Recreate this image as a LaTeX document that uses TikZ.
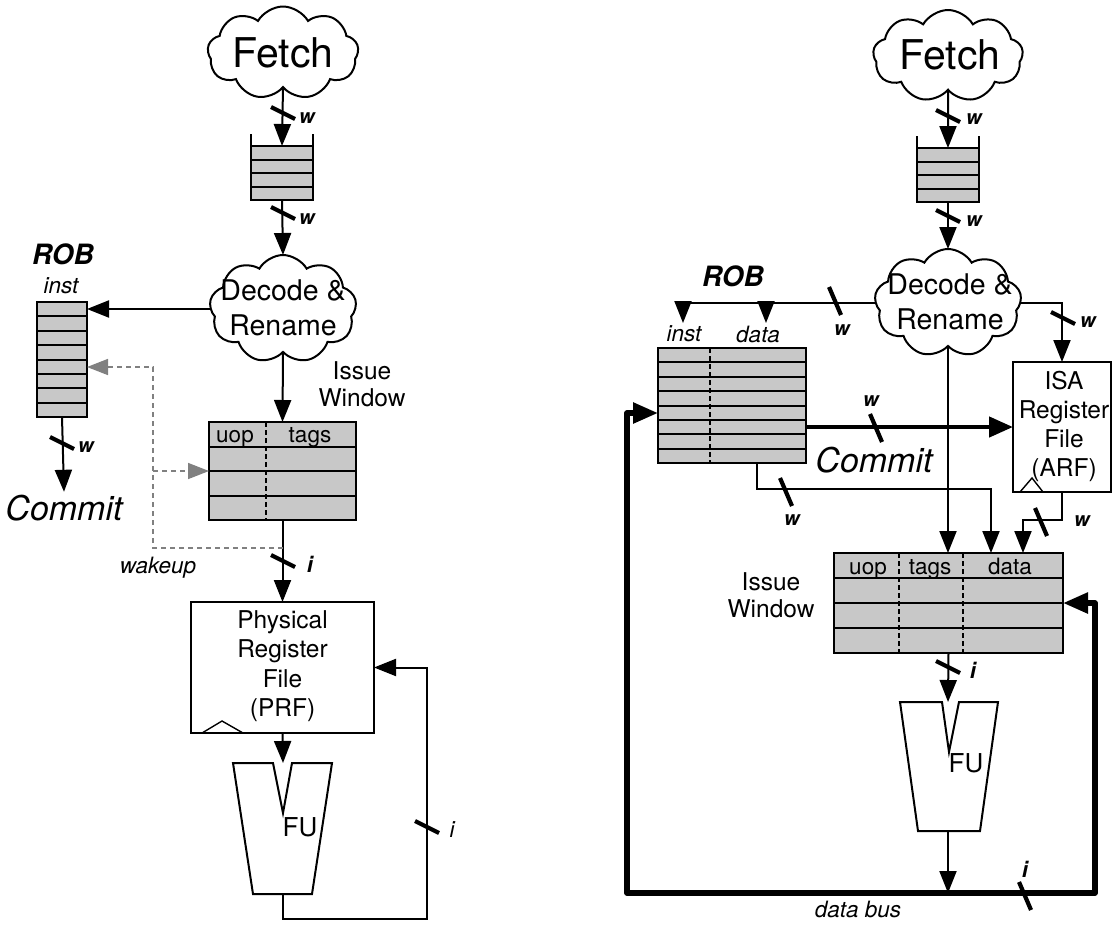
\documentclass[tikz,border=0pt]{standalone}
\usepackage{fontspec}
\setmainfont{TeX Gyre Heros}
\usetikzlibrary{shapes.symbols,arrows.meta,calc}
\definecolor{cellgray}{RGB}{200,200,200}
\definecolor{wkgray}{RGB}{128,128,128}
\tikzset{
  ln/.style={line width=2pt},
  arr/.style={line width=2pt, -{Triangle[length=22pt,width=17pt]}},
  garr/.style={line width=1.6pt, draw=wkgray, dash pattern=on 5pt off 4pt, -{Triangle[length=21pt,width=16pt]}},
  carr/.style={line width=4.5pt, -{Triangle[length=24pt,width=20pt]}},
  bus/.style={line width=5.5pt, line join=round},
  slashline/.style={line width=4.2pt},
  cloudbox/.style={cloud, cloud puffs=9, cloud puff arc=120, aspect=1.6, draw, line width=2pt, inner sep=0pt, outer sep=0pt},
  cellbox/.style={draw, fill=cellgray, line width=2pt, inner sep=0pt, outer sep=0pt},
  regbox/.style={draw, fill=white, line width=2pt, inner sep=0pt, outer sep=0pt},
  coldash/.style={line width=1.8pt, dash pattern=on 5pt off 3pt},
  bigtxt/.style={font=\fontsize{41}{44}\selectfont, inner sep=0pt},
  cloudtxt/.style={font=\fontsize{28.5}{35}\selectfont, align=center, inner sep=0pt},
  boxtxt/.style={font=\fontsize{24.5}{29.5}\selectfont, align=center, inner sep=0pt},
  headtxt/.style={font=\fontsize{22.5}{24}\selectfont, anchor=base, inner sep=0pt},
  ittxt/.style={font=\fontsize{22.5}{24}\selectfont\itshape, inner sep=0pt},
  committxt/.style={font=\fontsize{34}{38}\selectfont\itshape, inner sep=3pt},
  robtxt/.style={font=\fontsize{28}{30}\selectfont\bfseries\itshape, inner sep=0pt},
  wtxt/.style={font=\fontsize{20}{22}\selectfont\bfseries\itshape, inner sep=0pt},
  itxt/.style={font=\fontsize{22}{24}\selectfont\bfseries\itshape, inner sep=0pt},
}
\newcommand\myqueue[2]{%
  \node[fill=cellgray, minimum width=62pt, minimum height=54pt, inner sep=0pt, outer sep=0pt] (#1) at (#2) {};
  \draw[ln] ($(#1.north west)+(0,-12)$) -- (#1.south west) -- (#1.south east) -- ($(#1.north east)+(0,-12)$);
  \foreach \f in {0,0.25,0.5,0.75}
    \draw[ln] ($(#1.north west)!\f!(#1.south west)$) -- ($(#1.north east)!\f!(#1.south east)$);
}
\newcommand\mytable[6]{% name, center, width, height, rows, dash fractions
  \node[cellbox, minimum width=#3pt, minimum height=#4pt] (#1) at (#2) {};
  \foreach \k in {1,...,\numexpr#5-1\relax}
    \draw[ln] ($(#1.north west)!{\k/#5}!(#1.south west)$) -- ($(#1.north east)!{\k/#5}!(#1.south east)$);
  \foreach \f in {#6}
    \draw[coldash] ($(#1.north west)!\f!(#1.north east)$) -- ($(#1.south west)!\f!(#1.south east)$);
}
\newcommand\vslash[2]{\draw[slashline] ($(#1,#2)+(-12,-6)$) -- ($(#1,#2)+(12,6)$);}
\newcommand\hslash[2]{\draw[slashline] ($(#1,#2)+(-6,-14)$) -- ($(#1,#2)+(6,14)$);}
\begin{document}
\begin{tikzpicture}[x=1pt,y=-1pt]
\useasboundingbox (0,0) rectangle (1113,930);

%================ LEFT =================
\node[cloudbox, minimum width=151pt, minimum height=93pt] (fetchL) at (283,53) {};
\node[bigtxt] at (283,53) {Fetch};
\myqueue{qL}{282,173}
\node[cloudbox, minimum width=147pt, minimum height=108pt] (decL) at (283,309) {};
\node[cloudtxt] at (283,308) {Decode \&\\Rename};
\mytable{robL}{62,359.5}{50}{115}{8}{}
\node[robtxt] at (63,254) {ROB};
\node[ittxt] at (61,286) {inst};
\mytable{iwL}{282.5,471}{147}{98}{4}{0.388}
\node[headtxt] at (235,442) {uop};
\node[headtxt] at (310,442) {tags};
\node[boxtxt, font=\fontsize{24.5}{27}\selectfont] at (362,384) {Issue\\Window};
\node[regbox, minimum width=183pt, minimum height=131pt] (prfL) at (282.5,667.5) {};
\node[boxtxt] at (282.5,666) {Physical\\Register\\File\\(PRF)};
\draw[line width=1.4pt] (202,733) -- (222,721) -- (243,733);
\draw[ln] (233,763) -- (273,763) -- (283,813) -- (292,763) -- (332,763) -- (312,894) -- (253,894) -- cycle;
\coordinate (fuLtop) at (283,763);
\coordinate (fuLbot) at (283,894);
\node[boxtxt, font=\fontsize{26}{28}\selectfont] at (300,827) {FU};
\node[committxt] (commitL) at (64,508) {Commit};

\draw[arr] (fetchL.south) -- (qL.north);
\draw[arr] (qL.south) -- (decL.north);
\draw[arr] (decL.west) -- (decL.west -| robL.east);
\draw[arr] (decL.south) -- (iwL.north);
\draw[arr] (iwL.south) -- (prfL.north);
\draw[arr] (robL.south) -- (commitL.north);
\draw[arr] (prfL.south) -- (fuLtop);
\draw[arr] (fuLbot) -- ++(0,25) -| ($(prfL.east)+(53,0)$) -- (prfL.east);
\path (iwL.south) ++(0,28) coordinate (wk);
\coordinate (robLdash) at ($(robL.east)+(0,7.5)$);
\draw[garr] (wk) -| ($(robLdash)+(66,0)$) -- (robLdash);
\draw[garr] ($(iwL.west)+(-56,0)$) -- (iwL.west);

\vslash{283}{113} \node[wtxt] at (307,118) {w};
\vslash{283}{213} \node[wtxt] at (307,219) {w};
\vslash{62}{443}  \node[wtxt] at (86,447) {w};
\vslash{283}{561} \node[itxt] at (310,564) {i};
\vslash{427}{827} \node[ittxt] at (452,830) {i};
\node[ittxt] at (158,568) {wakeup};

%================ RIGHT =================
\node[cloudbox, minimum width=150pt, minimum height=92pt] (fetchR) at (948,56) {};
\node[bigtxt] at (950,55) {Fetch};
\myqueue{qR}{948,175}
\node[cloudbox, minimum width=147pt, minimum height=108pt] (decR) at (948,303) {};
\node[cloudtxt] at (950,302) {Decode \&\\Rename};
\mytable{robR}{732,405.5}{148}{115}{8}{0.351}
\node[robtxt] at (733,276) {ROB};
\node[ittxt] (instR) at (684,334) {inst};
\node[ittxt] (dataR) at (758,334) {data};
\coordinate (instTip) at (683,323);
\coordinate (dataTip) at (766,323);
\node[regbox, minimum width=98pt, minimum height=130pt] (arfR) at (1062,427) {};
\node[boxtxt, font=\fontsize{24.5}{29}\selectfont] at (1064,426) {ISA\\Register\\File\\(ARF)};
\draw[line width=1.4pt] (1020,492) -- (1032,478) -- (1043,492);
\mytable{iwR}{948.5,603}{229}{100}{4}{0.284,0.563}
\node[headtxt] at (868,574) {uop};
\node[headtxt] at (930,574) {tags};
\node[headtxt] at (1010,574) {data};
\node[boxtxt, font=\fontsize{24.5}{27}\selectfont] at (771,595) {Issue\\Window};
\draw[ln] (900,702) -- (942,702) -- (949,752) -- (959,702) -- (998,702) -- (980,831) -- (918,831) -- cycle;
\coordinate (fuRtop) at (948,702);
\coordinate (fuRbot) at (948,831);
\node[boxtxt, font=\fontsize{26}{28}\selectfont] at (966,763) {FU};
\node[committxt, inner sep=0pt] at (874,460) {Commit};
\node[ittxt] at (858,909) {data bus};

\draw[arr] (fetchR.south) -- (qR.north);
\draw[arr] (qR.south) -- (decR.north);
\draw[arr] (decR.west) -| (instTip);
\draw[arr] (decR.west -| dataTip) -- (dataTip);
\draw[arr] (decR.east) -| (arfR.north);
\draw[arr] (decR.south) -- (decR.south |- iwR.north);
\coordinate (cmS) at ($(robR.east)+(0,21.5)$);
\draw[carr] (cmS) -- (cmS -| arfR.west);
\draw[arr] ($(robR.south west)+(99,0)$) -- ++(0,26) -| ($(iwR.north west)+(157,0)$);
\draw[arr] (arfR.south) -- ++(0,28) -| ($(iwR.north west)+(189,0)$);
\draw[arr] (iwR.south) -- (fuRtop);
\coordinate (busJ) at (948,893);
\draw[arr] (fuRbot) -- (busJ);
\draw[bus, {Triangle[length=25pt,width=20pt]}-{Triangle[length=25pt,width=20pt]}]
  ($(robR.west)+(0,7.5)$) -| (627,893) -| (1095,603) -- (iwR.east);

\vslash{948}{116} \node[wtxt] at (974,119) {w};
\vslash{948}{216} \node[wtxt] at (974,221) {w};
\hslash{835}{301} \node[wtxt] at (842,330) {w};
\vslash{1063}{318} \node[wtxt] at (1088,322) {w};
\hslash{876}{428} \node[wtxt] at (871,401) {w};
\hslash{786}{492} \node[wtxt] at (792,520) {w};
\hslash{1041}{522} \node[wtxt] at (1082,521) {w};
\vslash{948}{667} \node[itxt] at (973,670) {i};
\hslash{1025}{896} \node[itxt] at (1025,869) {i};
\end{tikzpicture}
\end{document}
